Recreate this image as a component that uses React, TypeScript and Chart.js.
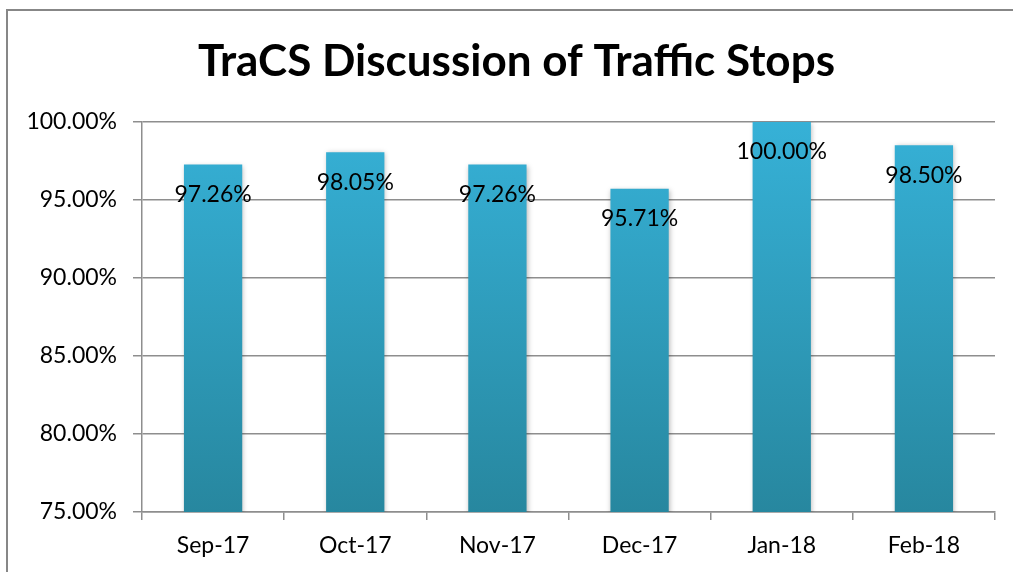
import React, { useEffect, useRef } from "react";
import { Chart, registerables } from "chart.js";

Chart.register(...registerables);

const categories = ["Sep-17", "Oct-17", "Nov-17", "Dec-17", "Jan-18", "Feb-18"];
const values = [97.26, 98.05, 97.26, 95.71, 100.0, 98.5];
const yMin = 75;
const yMax = 100;
const yStep = 5;
const titleText = "TraCS Discussion of Traffic Stops";

const FONT = "Lato";
const GRID = "#8e8e8e";
const fmt = (v: number) => v.toFixed(2) + "%";

const framePlugin = {
  id: "frame",
  afterLayout(chart: any) {
    if (chart.titleBlock) {
      chart.titleBlock.left = 38;
    }
  },
  beforeDraw(chart: any) {
    const ctx = chart.ctx;
    ctx.save();
    ctx.fillStyle = "#ffffff";
    ctx.fillRect(0, 0, chart.width, chart.height);
    ctx.strokeStyle = "#878787";
    ctx.lineWidth = 2;
    ctx.strokeRect(7, 10, 3000, 3000);
    ctx.restore();
  },
};

const barLabelPlugin = {
  id: "barLabels",
  beforeDatasetsDraw(chart: any) {
    const ctx = chart.ctx;
    ctx.save();
    ctx.shadowColor = "rgba(0,0,0,0.28)";
    ctx.shadowBlur = 5;
    ctx.shadowOffsetX = 1;
    ctx.shadowOffsetY = 1;
  },
  afterDatasetsDraw(chart: any) {
    const ctx = chart.ctx;
    ctx.restore();
    ctx.save();
    const meta = chart.getDatasetMeta(0);
    ctx.font = `23px ${FONT}`;
    ctx.fillStyle = "#000000";
    ctx.textAlign = "center";
    ctx.textBaseline = "middle";
    meta.data.forEach((el: any, i: number) => {
      ctx.fillText(fmt(values[i]), el.x, el.y + 30);
    });
    ctx.restore();
  },
};

export default function App() {
  const ref = useRef<HTMLCanvasElement | null>(null);

  useEffect(() => {
    if (!ref.current) return;
    const chart = new Chart(ref.current, {
      type: "bar",
      data: {
        labels: categories,
        datasets: [
          {
            data: values,
            backgroundColor: (c: any) => {
              const area = c.chart.chartArea;
              if (!area) return "#33a9cc";
              const g = c.chart.ctx.createLinearGradient(0, area.top, 0, area.bottom);
              g.addColorStop(0, "#36b1d7");
              g.addColorStop(1, "#27879f");
              return g;
            },
            borderWidth: 0,
            barPercentage: 0.41,
            categoryPercentage: 1,
          },
        ],
      },
      options: {
        responsive: false,
        animation: false,
        devicePixelRatio: 1,
        layout: { padding: { left: 0, right: 18, top: 0, bottom: 0 } },
        plugins: {
          legend: { display: false },
          tooltip: { enabled: false },
          title: {
            display: true,
            text: titleText,
            color: "#000000",
            font: { family: FONT, size: 44, weight: "bold" },
            padding: { top: 35, bottom: 34 },
          },
        },
        scales: {
          x: {
            afterFit: (s: any) => {
              s.height = 60;
            },
            grid: {
              display: true,
              drawOnChartArea: false,
              drawTicks: true,
              tickLength: 8,
              color: GRID,
              lineWidth: 1.5,
              offset: true,
            },
            border: { display: true, color: GRID, width: 1.5 },
            ticks: {
              color: "#000000",
              font: { family: FONT, size: 23 },
              padding: 12,
            },
          },
          y: {
            min: yMin,
            max: yMax,
            afterFit: (s: any) => {
              s.width = 142;
            },
            ticks: {
              stepSize: yStep,
              color: "#000000",
              font: { family: FONT, size: 23 },
              padding: 16,
              callback: (v: any) => fmt(Number(v)),
            },
            grid: {
              color: GRID,
              lineWidth: 1.5,
              drawTicks: true,
              tickLength: 9,
            },
            border: { display: true, color: GRID, width: 1.5 },
          },
        },
      },
      plugins: [framePlugin, barLabelPlugin],
    });
    return () => chart.destroy();
  }, []);

  return (
    <div style={{ position: "fixed", left: 0, top: 0, width: 1013, height: 572, background: "#fff" }}>
      <canvas ref={ref} width={1013} height={572} style={{ width: 1013, height: 572, display: "block" }} />
    </div>
  );
}
